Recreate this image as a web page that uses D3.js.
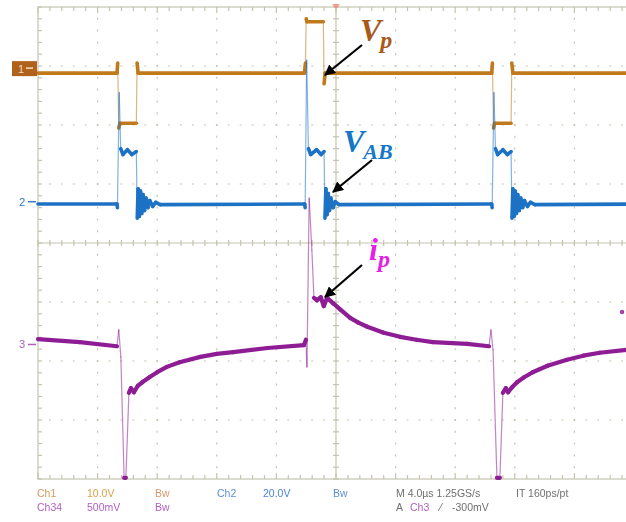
<!DOCTYPE html>
<html>
<head>
<meta charset="utf-8">
<script src="https://cdn.jsdelivr.net/npm/d3@7"></script>
<style>
  html, body { margin: 0; padding: 0; background: #fff; }
  svg { display: block; }
</style>
</head>
<body>
<script>
// ---------- DATA (time in µs, amplitude in screen divisions from centre) ----------
const timeDivs = [0, 4, 8, 12, 16, 20, 24, 28, 32, 36, 40];   // 4 µs/div
const ampDivs  = [-4, -3, -2, -1, 0, 1, 2, 3, 4];

// Ch1 : Vp
const vp = [
  [0,2.88],[5.3,2.88],[5.35,3.05],[5.42,1.95],[5.5,2.03],[6.6,2.03],[6.65,3.05],[6.72,2.88],
  [17.88,2.88],[17.95,3.05],[18.0,3.8],[18.05,3.75],[19.15,3.75],[19.2,2.7],[19.27,2.88],
  [30.45,2.88],[30.5,3.05],[30.57,1.95],[30.65,2.03],[31.75,2.03],[31.8,3.05],[31.87,2.88],[40,2.88]
];
// Ch2 : VAB
const vab = [
  [0,0.66],[5.3,0.66],[5.33,0.6],[5.45,2.55],[5.55,1.6],[5.7,1.5],[6.0,1.58],[6.3,1.5],[6.6,1.55],
  [6.66,0.42],[6.72,0.92],[6.8,0.45],[6.88,0.88],[6.96,0.5],[7.05,0.82],[7.15,0.55],[7.25,0.76],
  [7.38,0.6],[7.5,0.72],[7.7,0.62],[7.9,0.69],[8.2,0.65],
  [17.9,0.66],[17.93,0.6],[18.03,3.1],[18.15,1.6],[18.3,1.5],[18.7,1.58],[19.0,1.5],[19.2,1.55],
  [19.26,0.42],[19.32,0.92],[19.4,0.48],[19.48,0.84],[19.56,0.55],[19.66,0.76],[19.8,0.6],[19.95,0.7],[20.2,0.65],
  [30.45,0.66],[30.48,0.6],[30.6,2.55],[30.7,1.6],[30.85,1.5],[31.2,1.58],[31.5,1.5],[31.75,1.55],
  [31.81,0.42],[31.87,0.92],[31.95,0.45],[32.03,0.88],[32.11,0.5],[32.2,0.82],[32.3,0.55],[32.4,0.76],
  [32.53,0.6],[32.65,0.72],[32.85,0.62],[33.05,0.69],[33.35,0.65],[40,0.66]
];
// Ch3 : ip
const ip = [
  [0,-1.63],[2.8,-1.68],[5.3,-1.75],[5.42,-1.47],[5.56,-1.93],[5.78,-3.98],[5.9,-3.98],[6.1,-2.54],
  [6.24,-2.46],[6.44,-2.53],[6.7,-2.42],[7.0,-2.36],[7.5,-2.27],[8.0,-2.19],[8.65,-2.1],[9.5,-2.02],
  [10.9,-1.93],[12.0,-1.88],[13.1,-1.85],[15.4,-1.78],
  [17.85,-1.73],[17.98,-1.64],[18.05,-2.1],[18.2,0.76],[18.38,-0.12],[18.52,-0.93],[18.72,-0.97],
  [18.98,-0.92],[19.18,-1.07],[19.4,-0.93],[19.8,-1.02],[20.3,-1.13],[20.95,-1.27],[21.5,-1.35],
  [22.1,-1.42],[23.2,-1.52],[24.3,-1.59],[25.4,-1.64],[26.5,-1.68],[28.8,-1.71],
  [30.27,-1.75],[30.4,-1.47],[30.54,-1.81],[30.8,-3.98],[31.0,-3.98],
  [31.2,-2.54],[31.4,-2.46],[31.55,-2.53],[31.8,-2.45],[32.15,-2.36],[32.6,-2.28],[33.2,-2.19],
  [34.2,-2.08],[35.5,-1.98],[36.6,-1.91],[37.7,-1.86],[39.5,-1.81],[40,-1.8]
];

// Channel ground markers (divisions)
const markers = [
  { ch: "1", level: 2.93 },
  { ch: "2", level: 0.7 },
  { ch: "3", level: -1.72 }
];

const statusRow1 = [
  { text: "Ch1", x: 37, color: "#d49a5c" },
  { text: "10.0V", x: 87, color: "#d8a244" },
  { text: "Bw", x: 155, color: "#d49a6c" },
  { text: "Ch2", x: 217, color: "#5b8fd6" },
  { text: "20.0V", x: 263, color: "#4a86d8" },
  { text: "Bw", x: 333, color: "#5b8fd6" },
  { text: "M 4.0µs 1.25GS/s", x: 396, color: "#6f6f6f" },
  { text: "IT 160ps/pt", x: 516, color: "#6f6f6f" }
];
const statusRow2 = [
  { text: "Ch34", x: 37, color: "#b35fc4" },
  { text: "500mV", x: 87, color: "#b35fc4" },
  { text: "Bw", x: 155, color: "#b35fc4" },
  { text: "A", x: 396, color: "#6f6f6f" },
  { text: "Ch3", x: 410, color: "#b35fc4" },
  { text: "⁄", x: 440, color: "#6f6f6f" },
  { text: "-300mV", x: 452, color: "#6f6f6f" }
];

// ---------- DRAW ----------
const W = 626, H = 522;
const svg = d3.select("body").append("svg").attr("width", W).attr("height", H);
svg.append("rect").attr("width", W).attr("height", H).attr("fill", "#fff");
const defs = svg.append("defs");
defs.append("filter").attr("id", "soft").append("feGaussianBlur").attr("stdDeviation", 0.45);

const x = d3.scaleLinear().domain([0, 40]).range([38, 634]);
const y = d3.scaleLinear().domain([-4, 4]).range([479, 7]);

const gridCol = "#c4c4b0";
const g = svg.append("g");

// dotted grid
const dx = (x(4) - x(0)) / 5, dy = (y(-4) - y(-3)) / 5;
timeDivs.forEach(t => {
  if (t === 0 || t === 20) return;
  g.append("line").attr("x1", x(t)).attr("x2", x(t)).attr("y1", y(4)).attr("y2", y(-4))
    .attr("stroke", gridCol).attr("stroke-width", 1.2)
    .attr("stroke-dasharray", `2,${dy - 2}`).attr("stroke-dashoffset", 1);
});
ampDivs.forEach(a => {
  if (a === 4 || a === -4 || a === 0) return;
  g.append("line").attr("x1", x(0)).attr("x2", x(40)).attr("y1", y(a)).attr("y2", y(a))
    .attr("stroke", gridCol).attr("stroke-width", 1.2)
    .attr("stroke-dasharray", `2,${dx - 2}`).attr("stroke-dashoffset", 1);
});
// border
g.append("rect").attr("x", x(0)).attr("y", y(4)).attr("width", x(40) - x(0)).attr("height", y(-4) - y(4))
  .attr("fill", "none").attr("stroke", gridCol).attr("stroke-width", 1.2);
// centre cross
g.append("line").attr("x1", x(0)).attr("x2", x(40)).attr("y1", y(0)).attr("y2", y(0)).attr("stroke", gridCol).attr("stroke-width", 1.2);
g.append("line").attr("x1", x(20)).attr("x2", x(20)).attr("y1", y(4)).attr("y2", y(-4)).attr("stroke", gridCol).attr("stroke-width", 1.2);

// minor ticks
const minorT = d3.range(0, 40.01, 0.8);
const minorA = d3.range(-4, 4.01, 0.2);
minorT.forEach(t => {
  const big = Math.abs(t / 4 - Math.round(t / 4)) < 1e-6;
  const L = big ? 6 : 4;
  g.append("line").attr("x1", x(t)).attr("x2", x(t)).attr("y1", y(4)).attr("y2", y(4) + L).attr("stroke", gridCol).attr("stroke-width", 1.2);
  g.append("line").attr("x1", x(t)).attr("x2", x(t)).attr("y1", y(-4)).attr("y2", y(-4) - L).attr("stroke", gridCol).attr("stroke-width", 1.2);
  g.append("line").attr("x1", x(t)).attr("x2", x(t)).attr("y1", y(0) - 3).attr("y2", y(0) + 3).attr("stroke", gridCol).attr("stroke-width", 1.2);
});
minorA.forEach(a => {
  g.append("line").attr("x1", x(0)).attr("x2", x(0) + 4).attr("y1", y(a)).attr("y2", y(a)).attr("stroke", gridCol).attr("stroke-width", 1.2);
  g.append("line").attr("x1", x(20) - 3).attr("x2", x(20) + 3).attr("y1", y(a)).attr("y2", y(a)).attr("stroke", gridCol).attr("stroke-width", 1.2);
});

// trigger marker at top
svg.append("path")
  .attr("d", `M${x(20) - 4},${y(4) - 3} L${x(20) + 4},${y(4) - 3} L${x(20)},${y(4) + 2} Z`)
  .attr("fill", "#f08a70").attr("opacity", 0.8);

// traces: level parts thick, fast edges thin & faint
function drawTrace(data, color, thick, steepPx) {
  const tg = svg.append("g").attr("filter", "url(#soft)");
  d3.pairs(data).forEach(([a, b]) => {
    const steep = Math.abs(y(a[1]) - y(b[1])) > steepPx;
    tg.append("line")
      .attr("x1", x(a[0])).attr("y1", y(a[1]))
      .attr("x2", x(b[0])).attr("y2", y(b[1]))
      .attr("stroke", color)
      .attr("stroke-width", steep ? 1.2 : thick)
      .attr("stroke-opacity", steep ? 0.55 : 1)
      .attr("stroke-linecap", "round");
  });
}
drawTrace(vp, "#c07a1c", 3.6, 30);
drawTrace(vab, "#1f72c4", 3.6, 40);
drawTrace(ip, "#8e1f94", 4.2, 12);

// stray purple dot
svg.append("circle").attr("cx", x(39.2)).attr("cy", y(-1.17)).attr("r", 2.2).attr("fill", "#a040a8");

// channel markers
const mk = svg.append("g");
{
  const yy = y(markers[0].level);
  mk.append("rect").attr("x", 12).attr("y", yy - 9).attr("width", 25).attr("height", 15).attr("fill", "#b0621c");
  mk.append("text").attr("x", 18).attr("y", yy + 3).attr("fill", "#f3dcc4")
    .attr("font-family", "Liberation Sans, Arial, sans-serif").attr("font-size", 11).text("1");
  mk.append("path").attr("d", `M26,${yy - 2} L33,${yy - 2}`).attr("stroke", "#f3dcc4").attr("stroke-width", 1.5);
}
[[markers[1], "#3a7acc"], [markers[2], "#b060b8"]].forEach(([m, c]) => {
  const yy = y(m.level);
  mk.append("text").attr("x", 19).attr("y", yy + 4).attr("fill", c)
    .attr("font-family", "Liberation Sans, Arial, sans-serif").attr("font-size", 11).text(m.ch);
  mk.append("path").attr("d", `M28,${yy} L36,${yy}`).attr("stroke", c).attr("stroke-width", 1.5);
});

// annotations
const ann = svg.append("g").attr("font-family", "Liberation Serif, Times New Roman, serif")
  .attr("font-weight", "bold").attr("font-style", "italic");
function label(xp, yp, main, sub, color, subSize) {
  const t = ann.append("text").attr("x", xp).attr("y", yp).attr("fill", color).attr("font-size", 32);
  t.append("tspan").text(main);
  t.append("tspan").attr("font-size", subSize).attr("dy", 7).attr("dx", main === "i" ? 0 : -1).text(sub);
}
label(360, 41, "V", "p", "#a85a1a", 24);
label(343, 152, "V", "AB", "#1577c9", 22);
label(369, 260, "i", "p", "#e61fe6", 24);

defs.append("marker").attr("id", "ah").attr("viewBox", "0 0 10 10").attr("refX", 9).attr("refY", 5)
  .attr("markerWidth", 5).attr("markerHeight", 5).attr("orient", "auto-start-reverse")
  .append("path").attr("d", "M0,0 L10,5 L0,10 Z").attr("fill", "#000");
[[362, 45, 325, 75], [372, 160, 333, 192], [362, 265, 325, 297]].forEach(([x1, y1, x2, y2]) => {
  svg.append("line").attr("x1", x1).attr("y1", y1).attr("x2", x2).attr("y2", y2)
    .attr("stroke", "#000").attr("stroke-width", 2.2).attr("marker-end", "url(#ah)");
});

// status text
const st = svg.append("g").attr("font-family", "Liberation Sans, Arial, sans-serif").attr("font-size", 10.5)
  .attr("filter", "url(#soft)");
statusRow1.forEach(d => st.append("text").attr("x", d.x).attr("y", 497).attr("fill", d.color).text(d.text));
statusRow2.forEach(d => st.append("text").attr("x", d.x).attr("y", 511).attr("fill", d.color).text(d.text));
</script>
</body>
</html>
